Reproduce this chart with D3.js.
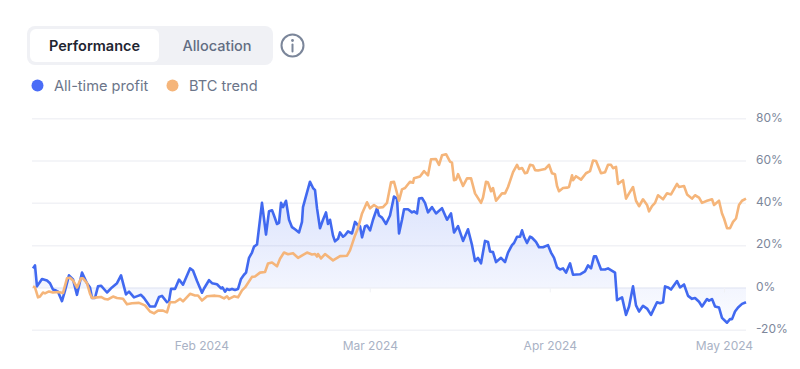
<!DOCTYPE html>
<html>
<head>
<meta charset="utf-8">
<script src="https://cdn.jsdelivr.net/npm/d3@7"></script>
<style>
  html, body { margin: 0; padding: 0; background: #fff; }
  svg { display: block; font-family: Inter, "Noto Sans", sans-serif; }
</style>
</head>
<body>
<div id="chart"></div>
<script>
const width = 800;
const height = 369;

const seriesNames = ["All-time profit", "BTC trend"];
const tabLabels = ["Performance", "Allocation"];
const yTicks = [-20, 0, 20, 40, 60, 80];
const xTicks = [new Date(2024, 1, 1), new Date(2024, 2, 1), new Date(2024, 3, 1), new Date(2024, 4, 1)];

// sample times, counted from the first point (1 unit is about a day)
const startDate = new Date(2024, 0, 3);
const hoursPerUnit = 24.145;

const profitTimes = [0,.34,.68,1.54,2.4,2.91,3.42,3.94,4.28,4.96,5.48,6.16,6.85,7.53,8.39,9.24,9.76,10.1,10.61,11.13,11.64,12.67,13.52,14.38,15.07,15.92,16.44,17.29,17.98,18.49,19,20.03,20.89,21.57,22.08,22.94,23.28,23.63,24.31,25,25.68,26.88,27.39,28.08,28.93,29.28,30.13,30.65,31.5,32.19,32.44,32.87,33.21,33.55,34.07,34.58,35.1,35.61,36.12,36.47,36.98,37.49,37.84,38.35,39.2,39.89,40.4,40.92,41.26,41.77,42.12,42.46,42.8,43.31,43.83,44.34,44.85,45.54,46.05,46.22,46.91,47.42,47.94,48.28,48.62,49.13,49.65,50.16,50.5,50.85,51.36,51.7,52.22,52.56,53.07,53.41,53.93,54.61,55.13,55.64,55.98,56.33,56.84,57.18,57.7,58.21,58.89,59.24,59.75,60.43,61.12,61.8,62.32,62.66,63.17,63.52,64.2,64.88,65.23,65.74,66.08,66.6,67.11,67.62,68.31,68.99,70.02,70.88,71.56,72.08,72.76,73.62,74.47,75.16,75.67,76.18,76.7,77.38,77.9,78.24,78.75,79.27,80.12,80.81,81.32,82,82.35,82.86,83.38,83.72,84.06,84.57,85.09,85.43,86.11,86.63,87.31,88.17,88.68,89.2,89.71,90.22,90.74,91.25,91.94,92.45,93.65,94.5,95.02,95.53,96.04,96.39,97.24,97.93,98.44,99.64,99.98,100.84,101.52,102.04,102.72,103.23,103.75,104.43,105.12,105.8,106.14,106.83,107.34,107.86,108.2,108.71,109.22,110.25,110.77,111.45,112.14,112.82,113.33,114.02,114.53,115.39,115.73,116.24,116.76,117.44,117.95,118.81,119.32,119.67,120.18,120.7,121.38,122.06];
const profitValues = [9,10.4,.5,4,3.3,2,-1,-1.5,-2,-6.5,-1.5,5.7,3.8,-3.5,7,2,0,-5,-5,.5,.8,-2.4,0,2,5.7,-3.3,-2,-4.7,-4,-3.5,-5,-9,-9,-4.5,-4,-7,-6.5,-.7,-.7,3.7,1.3,9,8,3,-2.5,-.5,3.4,2,1.5,-.5,0,-2,-.7,-1.2,-.7,-1.2,-.7,4,6,7,14,16.5,19.3,20.3,40,25,36,36.5,34,30,30.5,40,38,41,32,28.5,27.5,26,31,38,45,50,47,46,37.5,28,32,35.5,30,32,24.5,21.8,23,26,24,24.7,26.5,25.5,31,29.4,29,23.7,29,29.3,27,32,37.5,34,33,30,34,43,42,25.5,32,37,37,35.5,36,35,42,42.3,40,35.5,38,35,37.5,32,35,26,29,22,27.5,20,12.5,14,11.4,22,21.5,17,16.7,12,14,12,16.5,20,21,24,24,27,24,21,24,23.5,21.5,19,19,20,16.5,14,9.5,8.5,9,7,11.4,6,6.2,7.6,10.4,9,14.7,14.7,8.5,8.5,9,7,-6,-4.7,-13,-9,.5,-8.5,-11.4,-8.7,-10,-13,-11,-7,-7.5,-7,.5,0,-1,3,0,1.4,-4,-5.4,-5,-6.8,-9,-5.5,-6.3,-5.5,-9,-9.5,-14.4,-16.7,-15,-15,-11.4,-9.5,-7.8,-7];

const btcTimes = [0,.34,.86,1.2,1.71,2.05,2.74,3.42,4.28,4.96,5.14,5.82,6.33,6.85,7.53,8.22,8.56,9.24,9.76,10.1,10.96,11.64,12.33,12.84,13.7,14.38,15.41,16.09,16.95,18.15,19.17,20.03,20.72,21.4,22.26,22.94,23.45,24.31,25.17,25.68,26.88,27.74,28.25,28.93,29.79,31.16,32.01,32.7,33.21,33.55,34.41,35.1,35.78,36.3,37.49,38,38.86,39.72,40.23,40.92,41.77,42.29,42.97,43.66,44.51,45.37,46.91,47.76,48.28,48.62,48.79,49.31,49.99,51.36,52.56,53.76,54.27,55.13,55.64,56.33,57.18,57.7,58.38,59.07,59.92,60.6,61.29,61.8,62.66,63.17,63.69,64.54,65.06,65.23,66.25,66.94,67.62,68.14,68.99,69.51,70.02,70.71,71.39,71.73,72.08,72.42,72.76,73.62,74.3,74.99,75.67,76.7,77.04,77.55,77.9,78.41,78.75,79.27,80.29,80.81,81.32,82.18,82.86,83.2,83.72,84.23,84.57,85.09,85.6,85.94,86.46,87.65,88.33,88.85,89.36,89.71,90.05,90.74,91.42,91.76,92.28,92.45,92.96,93.82,94.67,95.36,95.87,96.39,97.24,97.93,98.44,98.95,99.3,99.81,100.15,101.01,101.52,102.04,102.72,103.23,103.75,104.43,105.12,105.46,105.97,106.49,107,107.86,108.54,109.22,110.25,110.6,111.45,111.97,112.82,113.33,114.02,114.53,115.39,116.24,116.59,117.44,117.95,118.3,118.81,119.32,119.84,120.35,120.86,121.38,122.06];
const btcValues = [.5,0,-4.7,-4.3,-2.4,-2.8,-1.9,-2.4,-2.2,-2.5,-2.6,4.3,4.6,3.3,0,4.3,4.3,2,-3,-5,-4.7,-4.5,-5.5,-5.7,-4.3,-5,-5.4,-8,-7.5,-7.3,-8.5,-11.4,-12.3,-11,-11,-11.8,-7,-7,-5.4,-6.6,-3,-3.8,-3.8,-6.2,-4.2,-3.9,-4.2,-5.2,-4.2,-5.4,-4.2,-4.7,-1.4,0,5,5.2,7,7.3,11.3,11.8,10,13.6,16.5,15.7,16.2,14,16.5,15.6,15.8,14.6,15.8,13.7,15.8,12.8,14.8,15,17.5,24.6,28,35,40.3,37.4,39,37.7,38,40,49.7,50,41,46.4,47,50,49.5,51.6,52.5,55,53,60.6,60.7,58,62.5,63,59.5,59,50.7,51,53.6,48,51.6,51.6,44.5,40,42.5,50,49.6,45.5,47,41,44.5,44.5,47.5,54.5,58,56,56.5,54,54.2,58,57.7,55.5,55.3,56,58,54,53.5,48,45.5,47,47.2,47.5,53,50.7,52.6,51,54,55,60,59.8,54,54.5,58,58,56.4,57,49,50.7,42,44.5,47.5,41,38.4,41.7,39,36,38.5,40,43.6,41.7,44.5,44,49,47.5,48,44,42,43.6,42.5,40,41,41.7,39,41,35,32.6,28,28,31,32.6,39,41,42];

const blue = "#4169f0";
const orange = "#f5b57a";

const svg = d3.select("#chart").append("svg")
    .attr("width", width)
    .attr("height", height);

const toDate = t => d3.timeMinute.offset(startDate, Math.round(t * hoursPerUnit * 60));

const profitData = profitTimes.map((t, i) => ({ date: toDate(t), value: profitValues[i] }));
const btcData = btcTimes.map((t, i) => ({ date: toDate(t), value: btcValues[i] }));

const x = d3.scaleTime()
    .domain(d3.extent(profitData, d => d.date))
    .range([33, 746]);

const y = d3.scaleLinear()
    .domain([-20, 80])
    .range([329.7, 118.3]);

// Grid lines and the right hand axis
const yAxis = svg.append("g")
    .attr("transform", "translate(746,0)")
    .call(d3.axisRight(y).tickValues(yTicks).tickSize(0).tickPadding(10).tickFormat(d => d + "%"));
yAxis.select(".domain").remove();
yAxis.selectAll("text")
    .attr("fill", "#7d879b")
    .attr("font-size", 12)
    .attr("font-family", "Inter, sans-serif")
    .attr("y", -1);
yAxis.selectAll(".tick").append("line")
    .attr("x1", -714)
    .attr("x2", 0)
    .attr("stroke", "#f1f2f6")
    .attr("stroke-width", 1.5);

const defs = svg.append("defs");
const gradient = defs.append("linearGradient")
    .attr("id", "areaFill")
    .attr("gradientUnits", "userSpaceOnUse")
    .attr("x1", 0).attr("x2", 0)
    .attr("y1", y(50)).attr("y2", y(-17));
gradient.append("stop").attr("offset", "0%").attr("stop-color", blue).attr("stop-opacity", 0.2);
gradient.append("stop").attr("offset", "100%").attr("stop-color", blue).attr("stop-opacity", 0.02);

// Area goes between the profit line and the zero line
const area = d3.area()
    .x(d => x(d.date))
    .y0(y(0))
    .y1(d => y(d.value));

svg.append("path")
    .datum(profitData)
    .attr("fill", "url(#areaFill)")
    .attr("d", area);

// Bottom axis with small ticks just under the zero line
const xAxis = svg.append("g")
    .attr("transform", `translate(0,${y(0)})`)
    .call(d3.axisBottom(x).tickValues(xTicks).tickSize(5).tickPadding(49).tickFormat(d3.timeFormat("%b %Y")));
xAxis.select(".domain").remove();
xAxis.selectAll("line").attr("stroke", "#f0f1f5");
xAxis.selectAll("text")
    .attr("fill", "#a9b2c5")
    .attr("font-size", 12)
    .attr("font-family", "Inter, sans-serif");

const line = d3.line()
    .x(d => x(d.date))
    .y(d => y(d.value));

svg.append("path")
    .datum(profitData)
    .attr("fill", "none")
    .attr("stroke", blue)
    .attr("stroke-width", 2.6)
    .attr("stroke-linejoin", "round")
    .attr("d", line);

svg.append("path")
    .datum(btcData)
    .attr("fill", "none")
    .attr("stroke", orange)
    .attr("stroke-width", 2.6)
    .attr("stroke-linejoin", "round")
    .attr("d", line);

// Tabs
svg.append("rect")
    .attr("x", 27).attr("y", 26)
    .attr("width", 246).attr("height", 39)
    .attr("rx", 8)
    .attr("fill", "#f0f1f5");
svg.append("rect")
    .attr("x", 30).attr("y", 29)
    .attr("width", 129).attr("height", 33)
    .attr("rx", 6)
    .attr("fill", "#fff");
svg.selectAll(".tab")
    .data(tabLabels)
    .enter().append("text")
    .attr("class", "tab")
    .attr("x", (d, i) => i === 0 ? 94.5 : 217)
    .attr("y", 51)
    .attr("text-anchor", "middle")
    .attr("font-size", 14.5)
    .attr("font-weight", (d, i) => i === 0 ? 600 : 500)
    .attr("fill", (d, i) => i === 0 ? "#1f2531" : "#626d82")
    .text(d => d);

// Info icon
const info = svg.append("g").attr("transform", "translate(292.5,45.5)");
info.append("circle")
    .attr("r", 11)
    .attr("fill", "none")
    .attr("stroke", "#7b869a")
    .attr("stroke-width", 2);
info.append("circle")
    .attr("cy", -5)
    .attr("r", 1.4)
    .attr("fill", "#7b869a");
info.append("line")
    .attr("y1", -1).attr("y2", 6)
    .attr("stroke", "#7b869a")
    .attr("stroke-width", 2)
    .attr("stroke-linecap", "round");

// Legend
const legend = svg.selectAll(".legend")
    .data(seriesNames)
    .enter().append("g")
    .attr("class", "legend")
    .attr("transform", (d, i) => `translate(${i === 0 ? 37.5 : 172.5},85.5)`);
legend.append("circle")
    .attr("r", 6)
    .attr("fill", (d, i) => i === 0 ? "#4a6cf7" : orange);
legend.append("text")
    .attr("x", 16.5)
    .attr("y", 5.5)
    .attr("font-size", 14.6)
    .attr("fill", "#6b7589")
    .text(d => d);
</script>
</body>
</html>
